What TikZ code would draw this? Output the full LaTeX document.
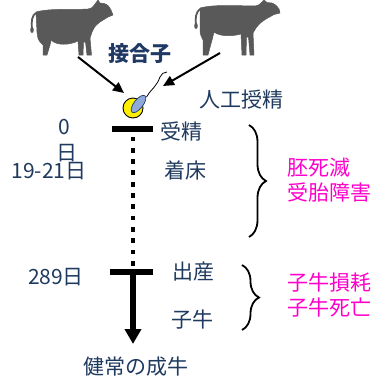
\documentclass[tikz,border=0pt]{standalone}
\usepackage{fontspec}
\setmainfont{Noto Sans CJK JP}
\usetikzlibrary{arrows.meta,decorations.pathreplacing,calc,shapes.geometric}
\definecolor{cowgray}{HTML}{595959}
\definecolor{navytext}{HTML}{1F3A5F}
\definecolor{boldnavy}{HTML}{1F3864}
\definecolor{pinktext}{HTML}{FF00CC}
\definecolor{eggyellow}{HTML}{FFF000}
\definecolor{spermblue}{HTML}{8EAADB}
\tikzset{
  lbl/.style={font=\fontsize{21}{25}\selectfont, text=navytext, inner sep=0pt},
  risk/.style={font=\fontsize{21}{25}\selectfont, text=pinktext, inner sep=0pt, anchor=west},
  feed/.style={line width=2pt, -{Triangle[length=11pt,width=10pt]}},
  daybar/.style={line width=6pt},
  dotline/.style={line width=4.8pt, dash pattern=on 4.8pt off 6.5pt},
  lifeline/.style={line width=6pt, -{Triangle[length=15pt,width=16pt]}},
  curly/.style={line width=1.8pt, decorate, decoration={brace, amplitude=17pt}},
  cowbody/.style={fill=cowgray, draw=cowgray, line width=0.5pt, line join=round},
  cowtail/.style={draw=cowgray, line width=1.8pt, line cap=round},
}
\begin{document}
\begin{tikzpicture}[x=1pt, y=-1pt]
  \useasboundingbox[fill=white] (0,0) rectangle (373,378);

  % left parent
  \path[cowbody]
    (36,12) .. controls (50,8) and (75,10) .. (88,9)
    .. controls (92,8) .. (95,4) -- (98,0) -- (100,3) -- (104,3.5)
    .. controls (108,5) .. (111,10) -- (113,15) -- (108,17)
    .. controls (104,19) .. (100,22) .. controls (95,26) .. (92,32)
    -- (90,38) -- (91.5,55) -- (87,55) -- (85.5,42) -- (83.5,42)
    -- (83,55) -- (79,55) -- (78,41)
    .. controls (70,45) and (57,46) .. (51,40)
    -- (50,45) -- (47,55) -- (43,55) -- (43,45)
    .. controls (38,40) .. (37,32) -- cycle;
  \draw[cowtail] (36,13) .. controls (32,15) and (31,22) .. (32,29);
  \fill[cowgray] (32,30) ellipse (1.8 and 3);

  % right parent
  \path[cowbody]
    (200,8) .. controls (215,4) and (240,6) .. (255,6)
    .. controls (259,5) .. (262,2) -- (264,0) -- (267,2.5) -- (272,3)
    .. controls (276,5) .. (279,9) -- (280,13) -- (274,14.5)
    .. controls (270,16) .. (266,19) .. controls (260,23) .. (256,28)
    -- (253,33) -- (254,55) -- (250,55) -- (248.5,37) -- (246.5,37)
    -- (246,55) -- (242,55) -- (241,34)
    .. controls (230,37) and (219,36) .. (214,32)
    -- (212,40) -- (208,55) -- (203,55) -- (203,40)
    .. controls (200,34) .. (200,26) -- cycle;
  \draw[cowtail] (200,9) .. controls (196,12) and (195,18) .. (196,25);
  \fill[cowgray] (196,26) ellipse (1.8 and 3);

  \coordinate (cowA) at (78,57);
  \coordinate (cowB) at (220,53);

  % zygote: egg and sperm
  \node (egg) [circle, draw=black, line width=0.9pt, fill=eggyellow,
               minimum size=20pt, inner sep=0pt] at (133,108) {};
  \node (sperm) [ellipse, draw=navytext, line width=0.7pt, fill=spermblue,
                 minimum width=21pt, minimum height=9pt, inner sep=0pt,
                 rotate=52] at (138.5,104) {};
  \draw[line width=0.8pt] (146.5,97) .. controls (150,91) and (153,89) .. (155,86)
        .. controls (158,82) and (159,80) .. (160,77)
        .. controls (161,74) and (164,72) .. (167,72);
  \coordinate (eggIn) at (124,93);
  \coordinate (tailIn) at (163,86);
  \draw[feed] (cowA) -- (eggIn);
  \draw[feed] (cowB) -- (tailIn);

  \node[lbl, font=\fontsize{21}{25}\selectfont\bfseries, text=boldnavy] (zyg) at (140,54) {接合子};
  \node[lbl] (ai) at (241,100) {人工授精};

  % timeline
  \coordinate (t0) at (133,129);
  \coordinate (t1) at (133,272);
  \coordinate (tend) at (133,344);
  \draw[daybar] ($(t0)+(-21,0)$) -- ($(t0)+(20,0)$);
  \draw[dotline] ($(t0)+(0,7.5)$) -- ($(t1)+(0,-6)$);
  \draw[daybar] ($(t1)+(-23,0)$) -- ($(t1)+(20,0)$);
  \draw[lifeline] (t1) -- (tend);

  % day labels
  \node[lbl] (d0) at (64,127) {0};
  \node[lbl] (d0u) at (67,153) {日};
  \node[lbl] (d19) at (49,171) {19-21日};
  \node[lbl] (d289) at (56,277) {289日};

  % events along the line
  \node[lbl] (fert) at (181,131) {受精};
  \node[lbl] (impl) at (185,170) {着床};
  \node[lbl] (birth) at (193,272) {出産};
  \node[lbl] (calf) at (192,320) {子牛};
  \node[lbl] (adult) at (136,367) {健常の成牛};

  % losses
  \draw[curly] (249,125) -- (249,237);
  \node[risk] (emb) at (287,168) {胚死滅};
  \node[risk] (conc) at (287,192) {受胎障害};
  \draw[curly] (242,265) -- (242,330);
  \node[risk] (closs) at (287,283) {子牛損耗};
  \node[risk] (cdead) at (287,308) {子牛死亡};
\end{tikzpicture}
\end{document}
